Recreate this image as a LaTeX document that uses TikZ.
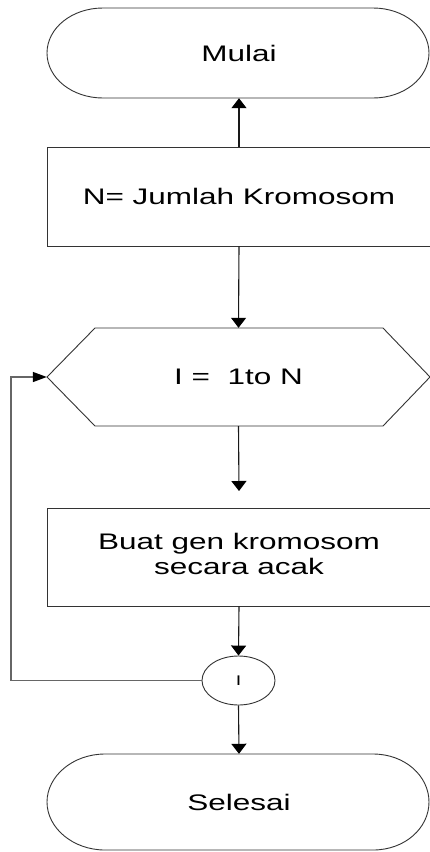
\documentclass[tikz,border=0pt]{standalone}
\usepackage{fontspec}
\setmainfont{Liberation Sans}
\usepackage{graphicx}
\usetikzlibrary{arrows.meta,shapes.geometric}
% labels are set wide, as in the original chart
\newcommand\stretched[1]{\scalebox{1.4}[1]{#1}}
\begin{document}
\begin{tikzpicture}[x=1pt,y=-1pt,
  outline/.style={draw=black!80, line width=0.9pt},
  txt/.style={font=\fontsize{22.5}{25}\selectfont},
  box/.style={outline, rectangle, minimum width=384pt, minimum height=99pt, inner sep=0pt, txt},
  hold/.style={rectangle, minimum width=383pt, minimum height=90pt, inner sep=0pt, txt},
  flow/.style={draw=black!90, line width=1.1pt, -{Triangle[width=15pt,length=10pt,color=black]}},
  back/.style={draw=black!60, line width=1.4pt, -{Triangle[width=10pt,length=14pt,color=black]}}]
\useasboundingbox (0,0) rectangle (430,852);
\fill[white] (0,0) rectangle (430,852);

% terminator outlines
\draw[outline] (103,8) -- (373,8) .. controls (404,8) and (429,28) .. (429,53)
  .. controls (429,78) and (404,98) .. (373,98) -- (103,98)
  .. controls (72,98) and (47,78) .. (47,53) .. controls (47,28) and (72,8) .. (103,8) -- cycle;
\draw[outline] (105,754) -- (373,754) .. controls (405,754) and (429,776) .. (429,802)
  .. controls (429,828) and (405,850) .. (373,850) -- (105,850)
  .. controls (73,850) and (47,828) .. (47,802) .. controls (47,776) and (73,754) .. (105,754) -- cycle;
% loop preparation hexagon
\draw[outline] (47,377) -- (95,328) -- (383,328) -- (430,377) -- (383,426) -- (95,426) -- cycle;

\node[hold] (start) at (239,53) {\stretched{Mulai}};
\node[box] (count) at (239,196.5) {\stretched{N= Jumlah Kromosom}};
\node[hold, minimum height=98pt] (loop) at (238.5,377) {\stretched{I =\ \ 1to N}};
\node[box, minimum height=98pt] (gen) at (239,557)
  {\stretched{\begin{tabular}{@{}c@{}}Buat gen kromosom\\secara acak\end{tabular}}};
\node[outline, ellipse, minimum width=73pt, minimum height=49pt, inner sep=0pt,
  font=\fontsize{14}{16}\selectfont] (join) at (238.5,680.5) {\stretched{I}};
\node[hold, minimum height=96pt] (stop) at (239,802) {\stretched{Selesai}};

\coordinate (genin) at (239,491);
\coordinate (bend) at (11,377);

\draw[flow] (count.north) -- (start.south);
\draw[flow] (count.south) -- (loop.north);
\draw[flow] (loop.south) -- (genin);
\draw[flow] (gen.south) -- (join.north);
\draw[back] (join.west) -| (bend) -- (loop.west);
\draw[flow] (join.south) -- (stop.north);
\end{tikzpicture}
\end{document}
